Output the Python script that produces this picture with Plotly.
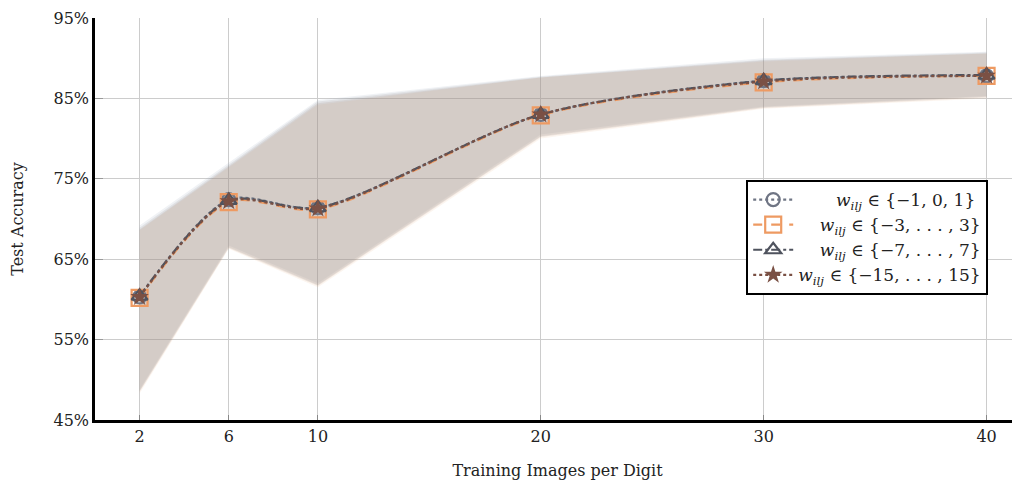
import plotly.graph_objects as go

x_vals = [2, 6, 10, 20, 30, 40]

NB = "\u00a0"
labels = [
    NB * 7 + "<i>w</i><sub><i>ilj</i></sub> ∈ {−1, 0, 1}",
    NB * 4 + "<i>w</i><sub><i>ilj</i></sub> ∈ {−3, . . . , 3}",
    NB * 4 + "<i>w</i><sub><i>ilj</i></sub> ∈ {−7, . . . , 7}",
    "<i>w</i><sub><i>ilj</i></sub> ∈ {−15, . . . , 15}",
]

mean_1 = [60.3, 72.4, 71.4, 83.0, 87.2, 87.8]
mean_2 = [60.2, 72.1, 71.2, 82.9, 87.0, 87.8]
mean_3 = [60.4, 72.3, 71.4, 83.0, 87.2, 87.9]
mean_4 = [60.3, 72.2, 71.3, 83.0, 87.1, 87.8]

upper_1 = [69.2, 77.0, 84.8, 87.8, 90.0, 90.8]
upper_2 = [68.6, 76.4, 84.2, 87.6, 89.6, 90.6]
upper_3 = [68.9, 76.8, 84.6, 87.7, 89.8, 90.7]
upper_4 = [68.7, 76.6, 84.4, 87.6, 89.7, 90.6]

lower_1 = [48.8, 66.7, 62.0, 80.5, 84.0, 85.3]
lower_2 = [48.3, 66.3, 61.5, 80.0, 83.7, 85.0]
lower_3 = [48.6, 66.5, 61.8, 80.3, 83.9, 85.2]
lower_4 = [48.5, 66.4, 61.7, 80.2, 83.8, 85.1]

means = [mean_1, mean_2, mean_3, mean_4]
uppers = [upper_1, upper_2, upper_3, upper_4]
lowers = [lower_1, lower_2, lower_3, lower_4]

y_ticks = [45, 55, 65, 75, 85, 95]
y_ticktext = ["45%", "55%", "65%", "75%", "85%", "95%"]

colors = ["#6f7584", "#ee9a62", "#4f535e", "#7a5044"]
band_colors = ["rgba(150,160,182,0.14)", "rgba(236,182,142,0.14)",
               "rgba(125,125,128,0.14)", "rgba(150,122,106,0.14)"]
dashes = ["dot", "dash", "dashdot", "dot"]
symbols = ["circle-open", "square-open", "triangle-up-open", "star"]
sizes = [13, 16, 14, 14]

fig = go.Figure()

for i in range(4):
    fig.add_trace(go.Scatter(x=x_vals, y=uppers[i], mode="lines",
                             line=dict(width=0), showlegend=False, hoverinfo="skip"))
    fig.add_trace(go.Scatter(x=x_vals, y=lowers[i], mode="lines",
                             line=dict(width=0), fill="tonexty",
                             fillcolor=band_colors[i], showlegend=False, hoverinfo="skip"))

for i in range(4):
    fig.add_trace(go.Scatter(
        x=x_vals, y=means[i], mode="lines+markers", name=labels[i],
        line=dict(color=colors[i], dash=dashes[i], width=2.2, shape="spline", smoothing=0.8),
        marker=dict(symbol=symbols[i], size=sizes[i], color=colors[i],
                    line=dict(color=colors[i], width=2.2 if i < 3 else 0)),
    ))

font_family = "DejaVu Serif, Liberation Serif, serif"

# page body has an 8px default margin; size the figure to fit the 1020x480 window
fig.update_layout(
    width=1012, height=472,
    margin=dict(l=87, r=0, t=10, b=60),
    paper_bgcolor="white", plot_bgcolor="white",
    font=dict(family=font_family, size=16, color="#222"),
    legend=dict(x=0.704, y=0.597, xanchor="left", yanchor="top",
                bordercolor="black", borderwidth=2, bgcolor="white",
                font=dict(size=17), itemwidth=40, tracegroupgap=0,
                traceorder="normal"),
    showlegend=True,
)

fig.update_xaxes(
    range=[0, 41.5], tickvals=x_vals, ticktext=[str(v) for v in x_vals],
    showgrid=True, gridcolor="#cccccc", gridwidth=1,
    showline=True, linecolor="black", linewidth=2.5,
    ticks="inside", ticklen=5, tickcolor="#888",
    zeroline=False, automargin=False,
    title=dict(text="Training Images per Digit", font=dict(size=16), standoff=20),
)
fig.update_yaxes(
    range=[45, 95], tickvals=y_ticks, ticktext=y_ticktext,
    showgrid=True, gridcolor="#cccccc", gridwidth=1,
    showline=True, linecolor="black", linewidth=2.5,
    ticks="inside", ticklen=8, tickcolor="#999",
    zeroline=False, automargin=False,
    title=dict(text="Test Accuracy", font=dict(size=16), standoff=28),
)

fig.write_html("out.html")
